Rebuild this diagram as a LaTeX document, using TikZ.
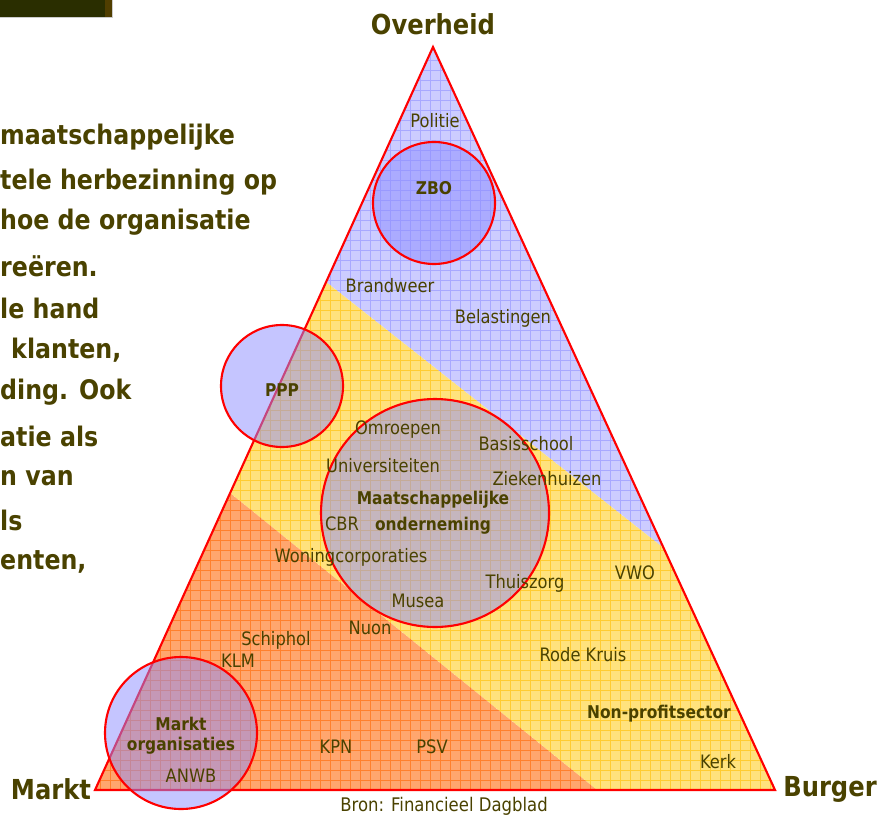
\documentclass[tikz,border=0pt]{standalone}
\usepackage{fontspec}
\setmainfont{DejaVu Sans}[FakeStretch=0.88]
\definecolor{txt}{RGB}{74,66,0}
\definecolor{bardark}{RGB}{42,46,0}
\definecolor{barbrown}{RGB}{80,62,0}
\definecolor{blueband}{RGB}{204,204,255}
\definecolor{bluegrid}{RGB}{168,168,255}
\definecolor{yellowband}{RGB}{255,226,125}
\definecolor{yellowgrid}{RGB}{255,204,50}
\definecolor{orangeband}{RGB}{255,166,110}
\definecolor{orangegrid}{RGB}{255,128,45}
\definecolor{bubble}{RGB}{140,140,255}
\usetikzlibrary{positioning}

\begin{document}
\begin{tikzpicture}[x=0.03cm,y=-0.03cm,
    lbl/.style={text=txt,inner sep=0pt,font=\fontsize{15.8}{18}\selectfont},
    blbl/.style={lbl,font=\fontsize{15}{18}\selectfont\bfseries,align=center},
    corner/.style={text=txt,inner sep=0pt,font=\fontsize{23.5}{28}\selectfont\bfseries},
    slide/.style={text=txt,inner sep=0pt,anchor=west,font=\fontsize{23}{27}\selectfont\bfseries},
    bubbleline/.style={draw=red,line width=1.8pt,fill=bubble,fill opacity=0.5},
    gridline/.style={line width=0.7pt}]

        \useasboundingbox (0,0) rectangle (881,816);

        % corners of the triangle and the band borders
        \coordinate (top) at (433,47);
        \coordinate (lft) at (95,790);
        \coordinate (rgt) at (775,790);
        \coordinate (bl1) at (326,282);
        \coordinate (br1) at (663.6,548);
        \coordinate (ol1) at (230,493);
        \coordinate (ob1) at (597,790);

        % slide bar top left
        \fill[bardark] (0,0) rectangle (105,17);
        \fill[barbrown] (105,0) rectangle (112,17);
        \draw[gray!40] (0,17.5) -- (112.5,17.5) -- (112.5,0);

        % slide text (cut off)
        \node[slide] (s1) at (0,137) {maatschappelijke};
        \node[slide] (s2) at (0,182) {tele herbezinning op};
        \node[slide] (s3) at (0,222) {hoe de organisatie};
        \node[slide] (s4) at (0,266) {reëren.};
        \node[slide] (s5) at (0,308) {le hand};
        \node[slide] (s6) at (11,350) {klanten,};
        \node[slide] (s7) at (0,392) {ding. Ook};
        \node[slide] (s8) at (0,436) {atie als};
        \node[slide] (s9) at (0,478) {n van};
        \node[slide] (s10) at (0,520) {ls};
        \node[slide] (s11) at (0,562) {enten,};

        % blue band
        \begin{scope}
            \clip (top) -- (bl1) -- (br1) -- cycle;
            \fill[blueband] (top) -- (bl1) -- (br1) -- cycle;
            \draw[bluegrid,gridline] (0,0) grid[step=0.3cm] (881,816);
        \end{scope}

        % yellow band
        \begin{scope}
            \clip (bl1) -- (br1) -- (rgt) -- (ob1) -- (ol1) -- cycle;
            \fill[yellowband] (bl1) -- (br1) -- (rgt) -- (ob1) -- (ol1) -- cycle;
            \draw[yellowgrid,gridline] (0,0) grid[step=0.3cm] (881,816);
        \end{scope}

        % orange band
        \begin{scope}
            \clip (ol1) -- (ob1) -- (lft) -- cycle;
            \fill[orangeband] (ol1) -- (ob1) -- (lft) -- cycle;
            \draw[orangegrid,gridline] (0,0) grid[step=0.3cm] (881,816);
        \end{scope}

        % triangle
        \draw[red,line width=1.8pt,line join=miter] (top) -- (lft) -- (rgt) -- cycle;

        % circles
        \draw[bubbleline] (434,203) circle (61);
        \draw[bubbleline] (282,386) circle (61);
        \draw[bubbleline] (435,513) circle (114);
        \draw[bubbleline] (181,733) circle (76);

        % corners
        \node[corner] (overheid) at (433,24) {Overheid};
        \node[corner] (markt) at (51,789) {Markt};
        \node[corner] (burger) at (830,789) {Burger};
        \node[lbl,font=\fontsize{16}{18}\selectfont] (bron) at (444,806) {Bron: Financieel Dagblad};

        % overheid band
        \node[lbl] (politie) at (435,121) {Politie};
        \node[blbl] (zbo) at (434,188) {ZBO};
        \node[lbl] (brandweer) at (390,286) {Brandweer};
        \node[lbl] (belasting) at (503,318) {Belastingen};
        \node[blbl] (ppp) at (282,390) {PPP};

        % middle
        \node[lbl] (omroepen) at (398,430) {Omroepen};
        \node[lbl] (basis) at (526,444) {Basisschool};
        \node[lbl] (univ) at (383,466) {Universiteiten};
        \node[lbl] (zieken) at (547,479) {Ziekenhuizen};
        \node[blbl] (mo) at (433,513) {Maatschappelijke\\[4pt]onderneming};
        \node[lbl] (cbr) at (342,524) {CBR};
        \node[lbl] (woning) at (351,557) {Woningcorporaties};
        \node[lbl] (thuis) at (525,583) {Thuiszorg};
        \node[lbl] (vwo) at (635,573) {VWO};
        \node[lbl] (musea) at (418,601) {Musea};
        \node[lbl] (rodekruis) at (583,655) {Rode Kruis};
        \node[blbl] (nps) at (659,714) {Non-profitsector};
        \node[lbl] (kerk) at (718,762) {Kerk};

        % markt band
        \node[lbl] (nuon) at (370,628) {Nuon};
        \node[lbl] (schiphol) at (276,640) {Schiphol};
        \node[lbl] (klm) at (238,661) {KLM};
        \node[blbl] (mkt) at (181,736) {Markt\\[-1pt]organisaties};
        \node[lbl] (kpn) at (336,747) {KPN};
        \node[lbl] (psv) at (432,747) {PSV};
        \node[lbl] (anwb) at (191,776) {ANWB};
    \end{tikzpicture}
\end{document}
